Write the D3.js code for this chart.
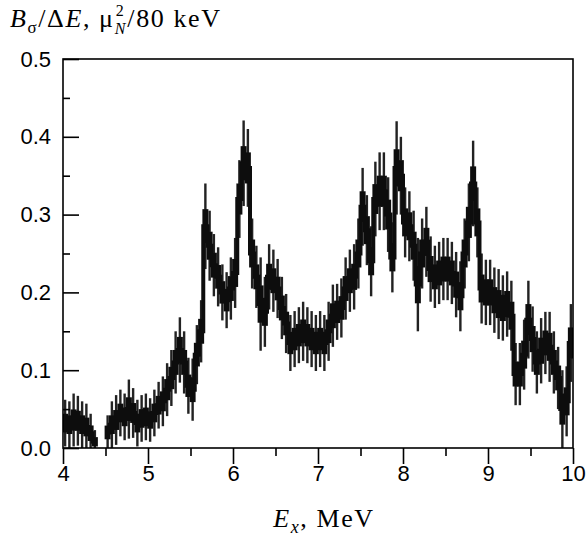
<!DOCTYPE html>
<html>
<head>
<meta charset="utf-8">
<script src="https://cdn.jsdelivr.net/npm/d3@7"></script>
<style>
  body { margin: 0; background: #fff; }
  text { fill: #000; }
</style>
</head>
<body>
<svg id="chart" width="586" height="544"></svg>
<script>
// Strength distribution per energy bin: first bin starts at 4.00 MeV, bins are 0.05 MeV wide
const binStart = 4.0;
const binWidth = 0.05;

const values = [
  0.032, 0.030, 0.036, 0.035, 0.030, 0.027, 0.019, 0.008, 0.000, 0.000,
  0.020, 0.030, 0.036, 0.045, 0.040, 0.050, 0.045, 0.032, 0.038, 0.040,
  0.036, 0.045, 0.055, 0.060, 0.075, 0.090, 0.110, 0.126, 0.110, 0.080,
  0.075, 0.120, 0.150, 0.285, 0.260, 0.235, 0.220, 0.200, 0.190, 0.205,
  0.225, 0.320, 0.366, 0.360, 0.250, 0.220, 0.185, 0.175, 0.220, 0.215,
  0.205, 0.180, 0.160, 0.135, 0.140, 0.145, 0.150, 0.145, 0.140, 0.135,
  0.140, 0.135, 0.150, 0.170, 0.175, 0.180, 0.205, 0.215, 0.220, 0.250,
  0.310, 0.280, 0.240, 0.320, 0.330, 0.330, 0.300, 0.245, 0.360, 0.350,
  0.290, 0.285, 0.260, 0.210, 0.250, 0.265, 0.230, 0.220, 0.225, 0.230,
  0.230, 0.225, 0.210, 0.195, 0.250, 0.290, 0.340, 0.290, 0.205, 0.200,
  0.200, 0.190, 0.185, 0.180, 0.185, 0.170, 0.095, 0.095, 0.120, 0.165,
  0.140, 0.110, 0.125, 0.135, 0.130, 0.110, 0.090, 0.050, 0.060, 0.135
];

const errors = [
  0.030, 0.030, 0.034, 0.032, 0.030, 0.030, 0.025, 0.015, 0.000, 0.000,
  0.022, 0.030, 0.032, 0.030, 0.030, 0.038, 0.032, 0.030, 0.030, 0.030,
  0.028, 0.030, 0.030, 0.032, 0.034, 0.036, 0.040, 0.042, 0.040, 0.036,
  0.040, 0.038, 0.040, 0.055, 0.045, 0.040, 0.038, 0.036, 0.036, 0.040,
  0.045, 0.050, 0.055, 0.050, 0.045, 0.040, 0.060, 0.045, 0.042, 0.040,
  0.038, 0.040, 0.038, 0.036, 0.036, 0.036, 0.038, 0.036, 0.036, 0.036,
  0.036, 0.036, 0.038, 0.040, 0.036, 0.038, 0.040, 0.040, 0.042, 0.045,
  0.050, 0.045, 0.045, 0.048, 0.050, 0.050, 0.048, 0.045, 0.060, 0.050,
  0.045, 0.045, 0.045, 0.060, 0.045, 0.045, 0.042, 0.040, 0.040, 0.040,
  0.040, 0.040, 0.042, 0.045, 0.045, 0.050, 0.055, 0.045, 0.045, 0.042,
  0.042, 0.042, 0.045, 0.042, 0.042, 0.045, 0.040, 0.040, 0.045, 0.050,
  0.042, 0.040, 0.042, 0.040, 0.045, 0.040, 0.040, 0.050, 0.045, 0.050
];

const xTicks = [4, 5, 6, 7, 8, 9, 10];
const xMinorTicks = [4.5, 5.5, 6.5, 7.5, 8.5, 9.5];
const yTicks = [0.0, 0.1, 0.2, 0.3, 0.4, 0.5];
const yMinorTicks = [0.05, 0.15, 0.25, 0.35, 0.45];

const bins = values.map((v, i) => ({
  e0: binStart + i * binWidth,
  e1: binStart + (i + 1) * binWidth,
  v: v,
  err: errors[i]
}));

const svg = d3.select("#chart");
const x = d3.scaleLinear().domain([4, 10]).range([63, 573]);
const y = d3.scaleLinear().domain([0, 0.5]).range([448, 59]);

// soft rendering for the measured spectrum
const defs = svg.append("defs");
defs.append("filter").attr("id", "soft")
  .append("feGaussianBlur").attr("stdDeviation", 0.55);
defs.append("clipPath").attr("id", "plotClip")
  .append("rect").attr("x", 63).attr("y", 59).attr("width", 510).attr("height", 389);

const data = svg.append("g").attr("filter", "url(#soft)").attr("clip-path", "url(#plotClip)");
const mid = d => (d.e0 + d.e1) / 2;
const shown = bins.filter(d => d.v > 0);

// error bars
data.selectAll("line.err").data(shown).join("line")
  .attr("class", "err")
  .attr("x1", d => x(mid(d))).attr("x2", d => x(mid(d)))
  .attr("y1", d => y(Math.max(0, d.v - d.err))).attr("y2", d => y(d.v + d.err))
  .attr("stroke", "#222").attr("stroke-width", 2.4);

// dense central part of each bin
data.selectAll("rect.core").data(shown).join("rect")
  .attr("class", "core")
  .attr("x", d => x(mid(d)) - 3)
  .attr("width", 6)
  .attr("y", d => y(d.v + d.err * 0.4))
  .attr("height", d => y(Math.max(0, d.v - d.err * 0.4)) - y(d.v + d.err * 0.4))
  .attr("fill", "#111");

// step histogram
const segments = [];
let run = [];
bins.forEach(d => {
  if (d.v > 0) { run.push(d); }
  else if (run.length) { segments.push(run); run = []; }
});
if (run.length) segments.push(run);

const stepLine = d3.line().x(p => x(p[0])).y(p => y(p[1])).curve(d3.curveStepAfter);
segments.forEach(seg => {
  const pts = seg.map(d => [d.e0, d.v]);
  pts.push([seg[seg.length - 1].e1, seg[seg.length - 1].v]);
  data.append("path").attr("d", stepLine(pts))
    .attr("fill", "none").attr("stroke", "#111").attr("stroke-width", 4);
});

// frame
svg.append("rect").attr("x", 63).attr("y", 59).attr("width", 510).attr("height", 389)
  .attr("fill", "none").attr("stroke", "#000").attr("stroke-width", 1.6);

const fontSans = "'Liberation Sans', Arial, Helvetica, sans-serif";
const fontSerif = "'Liberation Serif', 'Times New Roman', serif";

// x axis (ticks point outward)
svg.append("g").attr("transform", "translate(0,448)")
  .call(d3.axisBottom(x).tickValues(xTicks).tickFormat(d3.format("d")).tickSize(16).tickPadding(1));
svg.append("g").attr("transform", "translate(0,448)")
  .call(d3.axisBottom(x).tickValues(xMinorTicks).tickFormat("").tickSize(8));

// y axis (ticks point inward)
svg.append("g").attr("transform", "translate(63,0)")
  .call(d3.axisLeft(y).tickValues(yTicks).tickFormat(d3.format(".1f")).tickSizeInner(-16).tickSizeOuter(0).tickPadding(12));
svg.append("g").attr("transform", "translate(63,0)")
  .call(d3.axisLeft(y).tickValues(yMinorTicks).tickFormat("").tickSizeInner(-7).tickSizeOuter(0));

svg.selectAll(".domain").remove();
svg.selectAll(".tick line").attr("stroke", "#000").attr("stroke-width", 1.6);
svg.selectAll(".tick text").attr("font-family", fontSans).attr("font-size", 22).attr("fill", "#000");

// y axis title: B_σ/ΔE, μ_N^2/80 keV (index 2 and N stacked)
const titleY = 27;
const yTitle = svg.append("text").attr("x", 10).attr("y", titleY)
  .attr("font-family", fontSerif).attr("font-size", 26).attr("letter-spacing", 1.6);
yTitle.append("tspan").attr("font-style", "italic").text("B");
yTitle.append("tspan").attr("font-size", 17).attr("dy", 6).text("σ");
yTitle.append("tspan").attr("dy", -6).text("/Δ");
yTitle.append("tspan").attr("font-style", "italic").text("E");
yTitle.append("tspan").text(", μ");
const muEnd = yTitle.node().getComputedTextLength() + 10;
const sup = svg.append("text").attr("x", muEnd + 1).attr("y", titleY - 11)
  .attr("font-family", fontSerif).attr("font-size", 16).text("2");
const sub = svg.append("text").attr("x", muEnd).attr("y", titleY + 7)
  .attr("font-family", fontSerif).attr("font-size", 16).attr("font-style", "italic").text("N");
const idxW = Math.max(sup.node().getComputedTextLength(), sub.node().getComputedTextLength());
svg.append("text").attr("x", muEnd + idxW + 2).attr("y", titleY)
  .attr("font-family", fontSerif).attr("font-size", 26).attr("letter-spacing", 1.6)
  .text("/80 keV");

// x axis title
const xTitle = svg.append("text").attr("x", 324).attr("y", 527).attr("text-anchor", "middle")
  .attr("font-family", fontSerif).attr("font-size", 26).attr("letter-spacing", 1.6);
xTitle.append("tspan").attr("font-style", "italic").text("E");
xTitle.append("tspan").attr("font-style", "italic").attr("font-size", 18).attr("dy", 6).text("x");
xTitle.append("tspan").attr("dy", -6).text(", MeV");
</script>
</body>
</html>
